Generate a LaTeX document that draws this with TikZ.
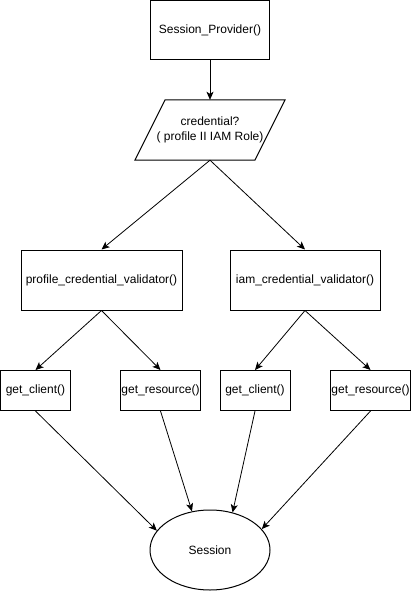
\documentclass[tikz,border=0pt]{standalone}
\usepackage{fontspec}
\setmainfont{Liberation Sans}
\usetikzlibrary{shapes.geometric,arrows.meta}
\begin{document}
\begin{tikzpicture}[x=1pt,y=-1pt,
  lbl/.style={font=\fontsize{12}{15}\selectfont,text=black,align=center},
  blk/.style={lbl,draw,line width=1pt,inner sep=0pt},
  conn/.style={line width=0.8pt,-{Stealth[length=8pt,width=7pt,inset=2pt]}}]
\useasboundingbox (0,0) rectangle (411,591);
\node[blk,minimum width=119pt,minimum height=59pt] (sp) at (210,30.5) {Session\_Provider()};
\draw[line width=1pt] (135,160) -- (255,160) -- (285,100) -- (165,100) -- cycle;
\node[lbl,inner sep=0pt,minimum width=150pt,minimum height=60pt] (cred) at (210,130) {credential?\\( profile II IAM Role)};
\node[blk,minimum width=161pt,minimum height=60pt] (pv) at (101.5,280) {profile\_credential\_validator()};
\node[blk,minimum width=150pt,minimum height=60pt] (iv) at (305,280) {iam\_credential\_validator()};
\node[blk,minimum width=70pt,minimum height=40pt] (gc1) at (35.5,390.5) {get\_client()};
\node[blk,minimum width=80pt,minimum height=40pt] (gr1) at (160.5,390.5) {get\_resource()};
\node[blk,minimum width=70pt,minimum height=40pt] (gc2) at (255,390.5) {get\_client()};
\node[blk,minimum width=80pt,minimum height=40pt] (gr2) at (370.5,390.5) {get\_resource()};
\node[blk,ellipse,minimum width=120pt,minimum height=80pt] (sess) at (210,550) {Session};
\draw[conn] (sp.south) -- (cred.north);
\draw[conn] (cred.south) -- (pv.north);
\draw[conn] (cred.south) -- (iv.north);
\draw[conn] (pv.south) -- (gc1.north);
\draw[conn] (pv.south) -- (gr1.north);
\draw[conn] (iv.south) -- (gc2.north);
\draw[conn] (iv.south) -- (gr2.north);
\draw[conn] (gc1.south) -- (sess.160);
\draw[conn] (gr1.south) -- (sess.115);
\draw[conn] (gc2.south) -- (sess.59);
\draw[conn] (gr2.south) -- (sess.22);
\end{tikzpicture}
\end{document}
